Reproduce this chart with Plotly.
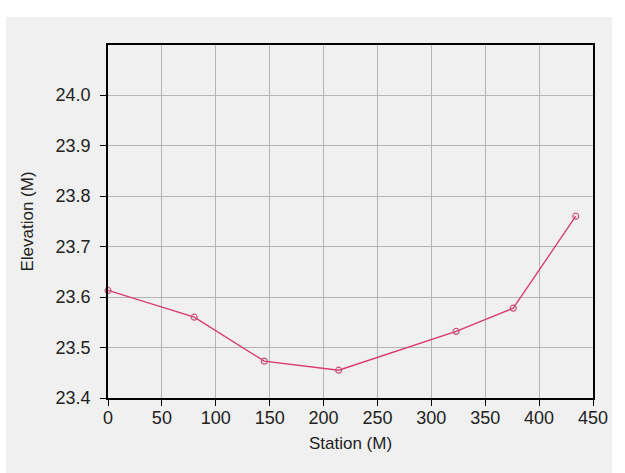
import plotly.graph_objects as go

# Surveyed cross-section profile
station = [0, 80, 145, 214, 323, 376, 434]
elevation = [23.613, 23.560, 23.473, 23.455, 23.532, 23.578, 23.760]

x_ticks = [0, 50, 100, 150, 200, 250, 300, 350, 400, 450]
y_ticks = [23.4, 23.5, 23.6, 23.7, 23.8, 23.9, 24.0]

FONT = "Liberation Sans, Arial"

fig = go.Figure()
fig.add_trace(go.Scatter(
    x=station, y=elevation, mode="lines+markers",
    line=dict(color="#d9376e", width=1.3),
    marker=dict(symbol="circle-open", size=6, color="#c8557a", line=dict(width=1.2)),
    cliponaxis=False, showlegend=False,
))

# light grey panel behind the chart
fig.add_shape(type="rect", xref="paper", yref="paper",
              x0=-102/485, x1=(612-108)/485, y0=-75/353, y1=(398-17)/353,
              fillcolor="#f0f0f0", line=dict(width=0), layer="below")

axis_common = dict(
    showline=True, linecolor="black", linewidth=1.5, mirror=True,
    showgrid=True, gridcolor="#b4b4b4", gridwidth=1,
    ticks="outside", ticklen=6, tickcolor="black", tickwidth=1,
    zeroline=False,
    tickfont=dict(family=FONT, size=18, color="#222"),
)

fig.update_xaxes(range=[0, 450], tickvals=x_ticks, ticktext=[str(v) for v in x_ticks],
                 ticklabelstandoff=-3,
                 title=dict(text="Station (M)", standoff=10,
                            font=dict(family=FONT, size=17, color="#222")),
                 **axis_common)
fig.update_yaxes(range=[23.4, 24.099], tickvals=y_ticks, ticktext=[f"{v:.1f}" for v in y_ticks],
                 ticklabelstandoff=6,
                 title=dict(text="Elevation (M)", standoff=18,
                            font=dict(family=FONT, size=17, color="#222")),
                 **axis_common)

fig.update_layout(
    width=625, height=473,
    margin=dict(l=108, r=32, t=45, b=75),
    paper_bgcolor="white", plot_bgcolor="white",
)

fig.write_html("out.html")
